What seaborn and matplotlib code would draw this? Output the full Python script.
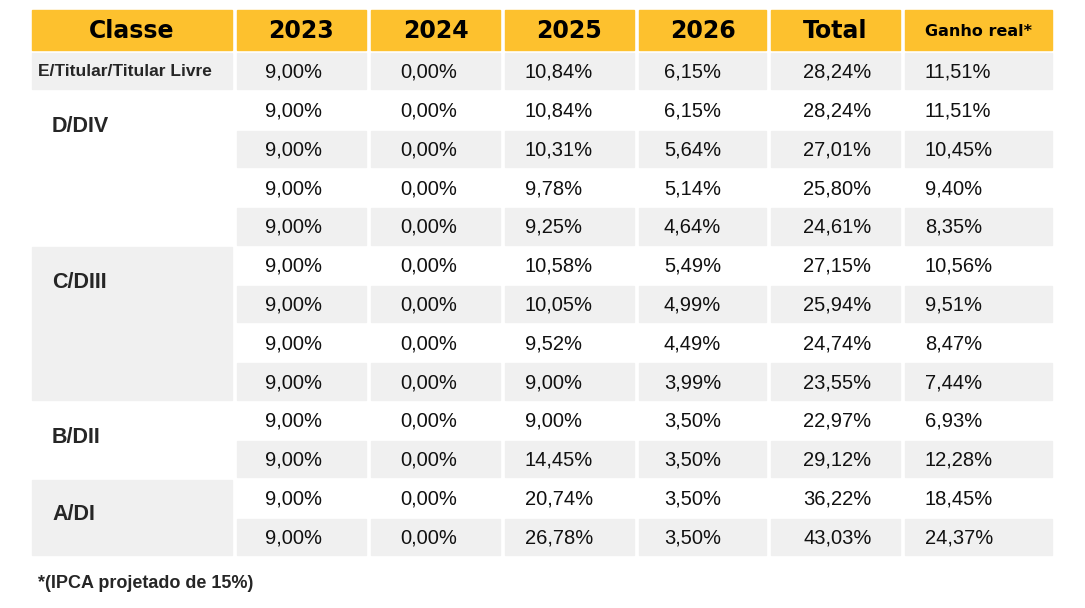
import matplotlib
matplotlib.use("Agg")
import matplotlib.pyplot as plt
import matplotlib.patches as mpatches
import seaborn as sns

sns.set_theme(style="white")
plt.rcParams["font.family"] = ["Liberation Sans", "DejaVu Sans"]

# Dados da tabela
cabecalho = ["Classe", "2023", "2024", "2025", "2026", "Total", "Ganho real*"]
classes = [("E/Titular/Titular Livre", 1), ("D/DIV", 4), ("C/DIII", 4), ("B/DII", 2), ("A/DI", 2)]
col_2023 = ["9,00%"] * 13
col_2024 = ["0,00%"] * 13
col_2025 = ["10,84%", "10,84%", "10,31%", "9,78%", "9,25%", "10,58%", "10,05%", "9,52%",
            "9,00%", "9,00%", "14,45%", "20,74%", "26,78%"]
col_2026 = ["6,15%", "6,15%", "5,64%", "5,14%", "4,64%", "5,49%", "4,99%", "4,49%",
            "3,99%", "3,50%", "3,50%", "3,50%", "3,50%"]
col_total = ["28,24%", "28,24%", "27,01%", "25,80%", "24,61%", "27,15%", "25,94%", "24,74%",
             "23,55%", "22,97%", "29,12%", "36,22%", "43,03%"]
col_ganho = ["11,51%", "11,51%", "10,45%", "9,40%", "8,35%", "10,56%", "9,51%", "8,47%",
             "7,44%", "6,93%", "12,28%", "18,45%", "24,37%"]
colunas = [col_2023, col_2024, col_2025, col_2026, col_total, col_ganho]

# Layout em pixels
x_ini = [32, 237, 371, 505, 639, 771, 905]
x_fim = [232, 366, 500, 634, 766, 900, 1052]
offset = [28, 29, 20, 25, 32, 20]
amarelo = "#FDC12E"
cinza = "#F0F0F0"
y0, hdr_h, row_h, gap = 10, 40, 38.8, 2.5
topo = 53

fig = plt.figure(figsize=(10.85, 6.08), dpi=100)
ax = fig.add_axes([0, 0, 1, 1])
ax.set_xlim(0, 1085)
ax.set_ylim(608, 0)
ax.axis("off")

for i, txt in enumerate(cabecalho):
    ax.add_patch(mpatches.Rectangle((x_ini[i], y0), x_fim[i] - x_ini[i], hdr_h, color=amarelo))
    ax.text((x_ini[i] + x_fim[i]) / 2, y0 + hdr_h / 2 + 1, txt, ha="center", va="center",
            fontsize=11.5 if i == 6 else 17, fontweight="heavy", family="DejaVu Sans",
            color="black")

for r in range(13):
    yt = topo + r * row_h
    cor = cinza if r % 2 == 0 else "white"
    for j, col in enumerate(colunas):
        ax.add_patch(mpatches.Rectangle((x_ini[j + 1], yt), x_fim[j + 1] - x_ini[j + 1],
                                        row_h - gap, color=cor))
        ax.text(x_ini[j + 1] + offset[j], yt + (row_h - gap) / 2 + 1, col[r],
                ha="left", va="center", fontsize=14.5, color="#111111")

r = 0
for k, (nome, n) in enumerate(classes):
    yt = topo + r * row_h
    cor = cinza if k % 2 == 0 else "white"
    ax.add_patch(mpatches.Rectangle((x_ini[0], yt), x_fim[0] - x_ini[0], n * row_h - gap, color=cor))
    if k == 0:
        ax.text(x_ini[0] + 6, yt + (row_h - gap) / 2, nome, ha="left",
                va="center", fontsize=12.5, fontweight="bold")
    else:
        ax.text(52, yt + 35, nome, ha="left", va="center", fontsize=15.5, fontweight="bold")
    r += n

ax.text(38, 584, "*(IPCA projetado de 15%)", ha="left", va="center", fontsize=13,
        fontweight="bold")

fig.savefig("out.png", dpi=100, facecolor="white")
